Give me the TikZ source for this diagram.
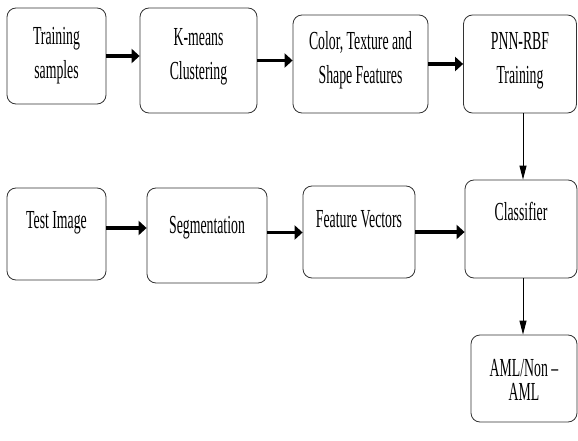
\documentclass[tikz,border=0pt]{standalone}
\usepackage{fontspec}
\setmainfont{Liberation Serif}
\usepackage{graphicx}
\usetikzlibrary{arrows.meta}

% narrow, tall box text (optional raise)
\newcommand{\boxtext}[2][0pt]{\raisebox{#1}[\height][\depth]{\scalebox{0.53}[1]{\renewcommand{\arraystretch}{1.1}\begin{tabular}{@{}c@{}}#2\end{tabular}}}}

\begin{document}
\begin{tikzpicture}[
    x = 1pt, y = -1pt, % pixel units, y downwards
    font = \fontsize{26}{31}\selectfont,
    semithick % line style
]

\tikzstyle{block}=[
    draw = black!80,
    rounded corners = 9pt,
    line width = 0.8pt,
    inner sep = 0pt
]
\tikzstyle{fat arrow}=[line width = 3.6pt, -{Triangle[length=8pt, width=14pt]}]
\tikzstyle{thin arrow}=[line width = 1pt, -{Triangle[length=14pt, width=7pt]}]

\useasboundingbox (0,0) rectangle (578,441);

\node[block, minimum width=99pt, minimum height=96pt] (train) at (56.5,56) {\boxtext[1pt]{Training\\samples}};
\node[block, minimum width=117pt, minimum height=105pt] (kmeans) at (198.5,60.5) {\boxtext[5pt]{K-means\\Clustering}};
\node[block, minimum width=135pt, minimum height=98pt] (features) at (360.5,64) {\boxtext[4pt]{Color, Texture and\\Shape Features}};
\node[block, minimum width=113pt, minimum height=98pt] (pnnrbf) at (520,64) {\boxtext[4pt]{PNN-RBF\\Training}};

\node[block, minimum width=99pt, minimum height=92pt] (test) at (56.5,234) {\boxtext[12pt]{Test Image}};
\node[block, minimum width=120pt, minimum height=95pt] (segment) at (207,235.5) {\boxtext[9pt]{Segmentation}};
\node[block, minimum width=112pt, minimum height=92pt] (vectors) at (359,232) {\boxtext[11pt]{Feature Vectors}};
\node[block, minimum width=112pt, minimum height=98pt] (classifier) at (521,229) {\boxtext[15pt]{Classifier}};

\node[block, minimum width=106pt, minimum height=87pt] (aml) at (524,378.5) {\boxtext[-3pt]{AML/Non –\\[-10pt]AML}};

\draw[fat arrow] (train.east) -- (train.east -| kmeans.west);
\draw[fat arrow] (kmeans.east) -- (kmeans.east -| features.west);
\draw[fat arrow] (features.east) -- (features.east -| pnnrbf.west);
\draw[thin arrow] ([xshift=3pt]pnnrbf.south) -- ([xshift=3pt]pnnrbf.south |- classifier.north);

\draw[fat arrow] ([yshift=6pt]test.east) -- ([yshift=6pt]test.east -| segment.west);
\draw[fat arrow] ([yshift=3pt]segment.east) -- ([yshift=3pt]segment.east -| vectors.west);
\draw[fat arrow] (vectors.east) -- (vectors.east -| classifier.west);
\draw[thin arrow] ([xshift=2pt]classifier.south) -- ([xshift=2pt]classifier.south |- aml.north);

\end{tikzpicture}
\end{document}
